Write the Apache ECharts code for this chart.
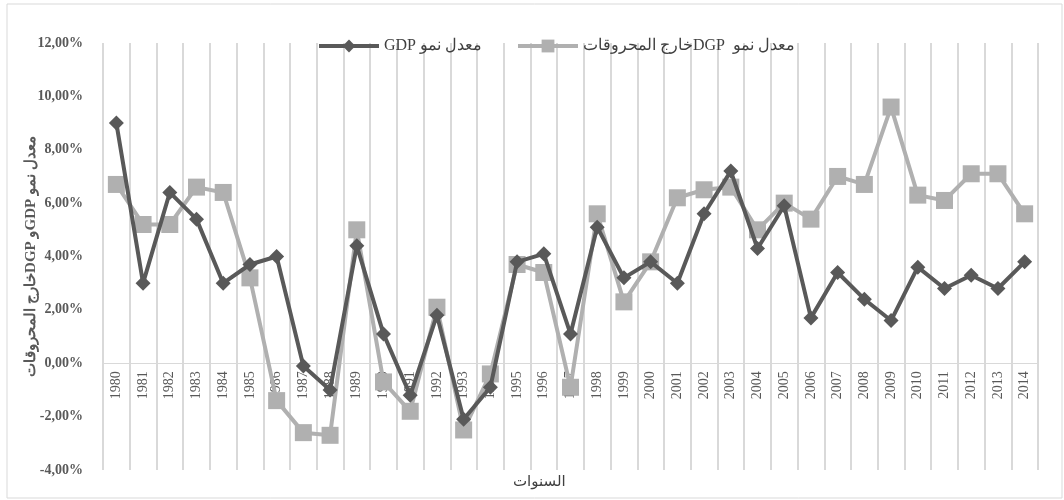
<!DOCTYPE html>
<html>
<head>
<meta charset="utf-8">
<script src="https://cdn.jsdelivr.net/npm/echarts@6/dist/echarts.min.js"></script>
<style>
html,body{margin:0;padding:0;background:#fff;}
#c{width:1064px;height:500px;}
</style>
</head>
<body>
<div id="c"></div>
<script>
var years = ['1980','1981','1982','1983','1984','1985','1986','1987','1988','1989','1990','1991','1992','1993','1994','1995','1996','1997','1998','1999','2000','2001','2002','2003','2004','2005','2006','2007','2008','2009','2010','2011','2012','2013','2014'];
var gdpGrowth = [9.0,3.0,6.4,5.4,3.0,3.7,4.0,-0.1,-1.0,4.4,1.1,-1.2,1.8,-2.1,-0.9,3.8,4.1,1.1,5.1,3.2,3.8,3.0,5.6,7.2,4.3,5.9,1.7,3.4,2.4,1.6,3.6,2.8,3.3,2.8,3.8];
var nonHydroGrowth = [6.7,5.2,5.2,6.6,6.4,3.2,-1.4,-2.6,-2.7,5.0,-0.7,-1.8,2.1,-2.5,-0.4,3.7,3.4,-0.9,5.6,2.3,3.8,6.2,6.5,6.6,5.0,6.0,5.4,7.0,6.7,9.6,6.3,6.1,7.1,7.1,5.6];
var yTicks = [-4,-2,0,2,4,6,8,10,12];

var RLE = '\u202B', PDF = '\u202C';
var name1 = 'معدل نمو GDP';
var name2 = 'معدل نمو  DGPخارج المحروقات';
var yName = 'معدل نمو GDPو DGPخارج المحروقات';
var xName = 'السنوات';

var gridTop = 43, gridBottom = 30, H = 500;
var plotH = H - gridTop - gridBottom;
var yMin = yTicks[0], yMax = yTicks[yTicks.length-1];
var zeroOffset = -plotH * (0 - yMin) / (yMax - yMin);

var serif = '"Liberation Serif","DejaVu Serif",serif';
var chart = echarts.init(document.getElementById('c'));
chart.setOption({
  animation:false,
  graphic:[{type:'rect',shape:{x:7,y:4,width:1055,height:494},style:{fill:'none',stroke:'#d9d9d9',lineWidth:1},silent:true}],
  title:{text:RLE+xName+PDF,left:508,top:470,textStyle:{fontFamily:'"DejaVu Sans",sans-serif',fontSize:15,fontWeight:'normal',color:'#404040'}},
  legend:{
    left:312, top:33, itemWidth:60, itemHeight:16, itemGap:34,
    textStyle:{fontFamily:serif,fontSize:16,color:'#404040'},
    formatter:function(n){return RLE+n+PDF;},
    data:[
      {name:name1,lineStyle:{width:4}},
      {name:name2,lineStyle:{width:4}}
    ]
  },
  grid:{left:103,right:26,top:gridTop,bottom:gridBottom,containLabel:false},
  xAxis:{
    type:'category', data:years, boundaryGap:true, position:'bottom', offset:zeroOffset,
    axisLine:{show:true,onZero:false,lineStyle:{color:'#d9d9d9',width:1}},
    axisTick:{show:false},
    axisLabel:{interval:0,rotate:90,margin:8,fontFamily:serif,fontSize:14,color:'#595959'},
    splitLine:{show:true,interval:0,lineStyle:{color:'#d9d9d9',width:2}}
  },
  yAxis:{
    type:'value', min:yMin, max:yMax, interval:2,
    name:RLE+yName+PDF, nameLocation:'middle', nameGap:64, nameRotate:90, nameMoveOverlap:false,
    nameTextStyle:{fontFamily:serif,fontSize:15,color:'#595959',fontWeight:'bold'},
    axisLine:{show:false}, axisTick:{show:false}, splitLine:{show:false},
    axisLabel:{margin:20,fontFamily:serif,fontSize:14,fontWeight:'bold',color:'#595959',
      formatter:function(v){return v.toFixed(2).replace('.',',')+'%';}}
  },
  series:[
    {name:name1,type:'line',data:gdpGrowth,symbol:'diamond',symbolSize:15,
     lineStyle:{color:'#595959',width:4},itemStyle:{color:'#595959'},z:3},
    {name:name2,type:'line',data:nonHydroGrowth,symbol:'rect',symbolSize:17,
     lineStyle:{color:'#b0b0b0',width:4},itemStyle:{color:'#b0b0b0'},z:2}
  ]
});
</script>
</body>
</html>
